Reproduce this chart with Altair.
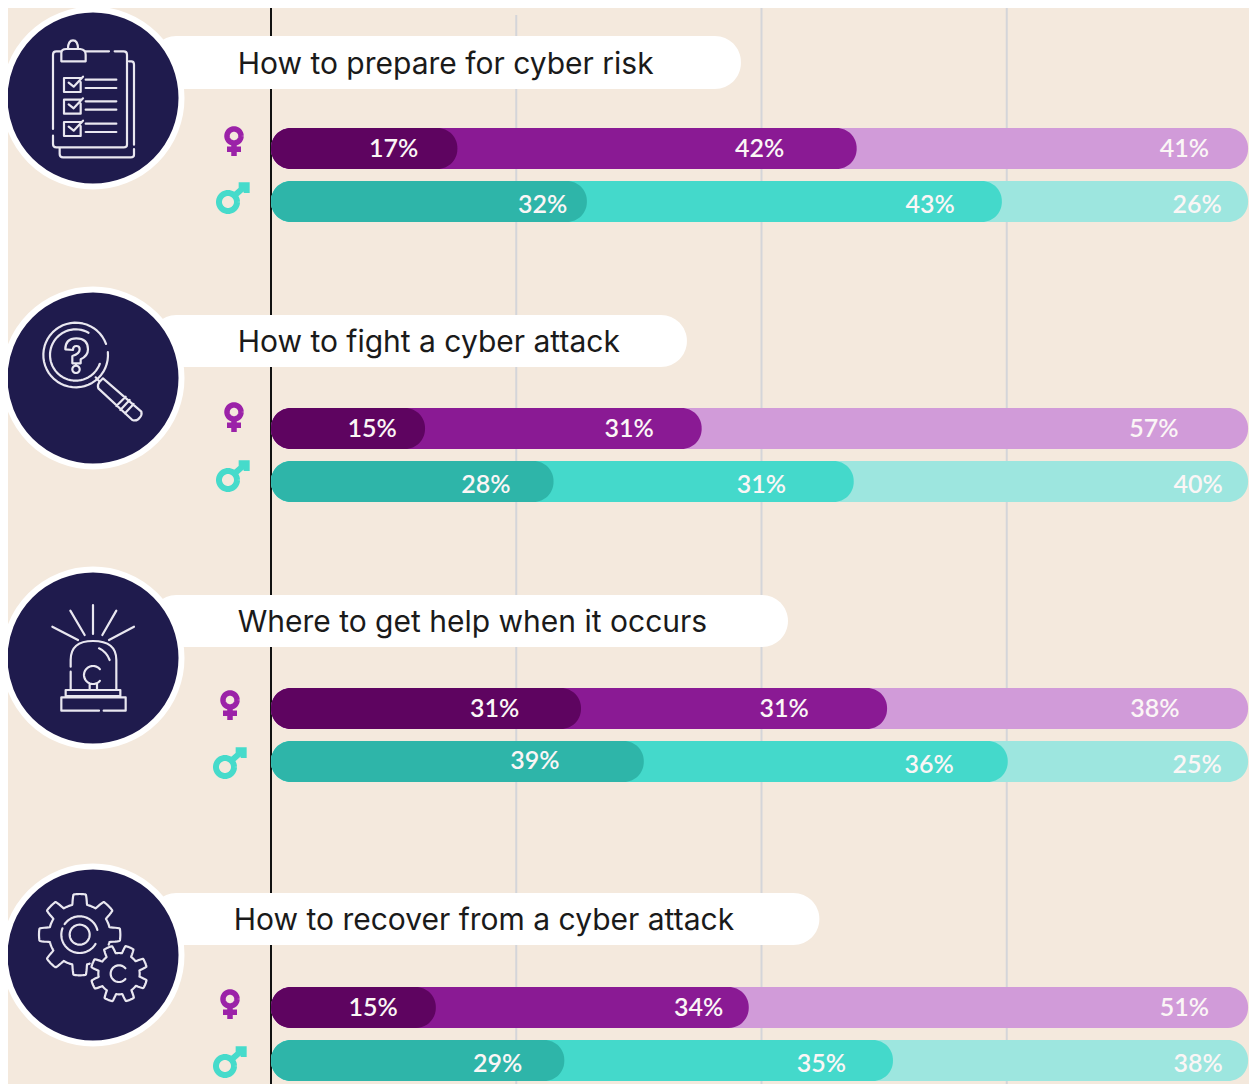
import numpy as np
import pandas as pd
import altair as alt

# ---- values -----------------------------------------------------------
TOPICS = ["How to prepare for cyber risk", "How to fight a cyber attack",
          "Where to get help when it occurs", "How to recover from a cyber attack"]
WOMEN_LABELS = [[17, 42, 41], [15, 31, 57], [31, 31, 38], [15, 34, 51]]
MEN_LABELS = [[32, 43, 26], [28, 31, 40], [39, 36, 25], [29, 35, 38]]
# where the first and second segment end on the 0-100 scale
WOMEN_ENDS = [[19.0, 59.7], [15.7, 43.9], [31.6, 62.8], [16.8, 48.7]]
MEN_ENDS = [[32.2, 74.5], [28.8, 59.4], [38.0, 75.1], [29.9, 63.4]]
# where each label is centred on the 0-100 scale
WOMEN_LABEL_AT = [[12.5, 49.8, 93.1], [10.3, 36.5, 90.0], [22.8, 52.3, 90.1], [10.4, 43.6, 93.1]]
MEN_LABEL_AT = [[27.7, 67.2, 94.4], [21.9, 50.0, 94.5], [26.9, 67.1, 94.4], [23.1, 56.1, 94.5]]
PILL_ENDS = [47.9, 42.4, 52.7, 55.9]
TITLE_AT = [-3.4, -3.4, -3.4, -3.8]
FULL_BAR_END = 99.6

# ---- layout ------------------------------------------------------------
K = 9.81  # pixels per percentage point
CIRCLE_X = -178 / K
CIRCLE_Y = [98, 378, 658, 955]
PILL_Y = [(36, 89), (315, 367), (595, 647), (893, 945)]
WOMEN_Y = [(128, 169), (408, 449), (688, 729), (987, 1028)]
MEN_Y = [(181, 222), (461, 502), (741, 782), (1040, 1081)]
W_SYM = [(-37 / K, 136), (-37 / K, 412), (-41 / K, 700), (-41 / K, 999)]
M_SYM = [(-43 / K, 202), (-43 / K, 480), (-46 / K, 767), (-46 / K, 1066)]
GRID = [(25, 15), (50, 0), (75, 0)]

BG = "#f4e9dd"; NAVY = "#1f1b4d"; LINE = "#e9e7f0"
WOMEN_COLORS = ["#d19bd9", "#8a1a94", "#5e0460"]
MEN_COLORS = ["#9de6df", "#44d9cb", "#2eb5a9"]

xs = alt.Scale(domain=[(8 - 271) / K, (1249 - 271) / K], zero=False, nice=False)
ys = alt.Scale(domain=[1084, 8], zero=False, nice=False)
X = alt.X("x:Q", scale=xs, axis=None)
Y = alt.Y("y:Q", scale=ys, axis=None)


# ---- icon outlines, in units of a third of a pixel ----------------------
def pl(*pts):
    return "M" + " L".join(f"{a:.1f} {b:.1f}" for a, b in pts)


def arc(cx, cy, r, a0=0, a1=360):
    t = np.radians(np.linspace(a0, a1, 49))
    return pl(*zip(cx + r * np.cos(t), cy + r * np.sin(t)))


def gear(cx, cy, root, outer, n, phase, avoid=None):
    t = np.radians(np.linspace(0, 360, 361))
    k = np.clip(1.5 * np.cos(n * (t - np.radians(phase))) + 0.5, 0, 1)
    r = root + (outer - root) * k
    a, b = cx + r * np.cos(t), cy + r * np.sin(t)
    runs, cur = [], []
    for p in zip(a, b):
        if avoid and np.hypot(p[0] - avoid[0], p[1] - avoid[1]) < avoid[2]:
            if cur:
                runs.append(cur)
            cur = []
        else:
            cur.append(p)
    if cur:
        runs.append(cur)
    return " ".join(pl(*c) for c in runs)


def shift(segs, cx, cy):
    """Re-centres absolute M/L/Q path text written in zoomed reference units."""
    out = []
    for s in segs:
        toks = s.replace("M", " M ").replace("L", " L ").replace("Q", " Q ").replace("Z", " Z ").replace(",", " ").split()
        i, res = 0, []
        while i < len(toks):
            if toks[i] in "MLQZ":
                res.append(toks[i]); i += 1
            else:
                res.append(f"{float(toks[i]) - cx:.1f} {float(toks[i + 1]) - cy:.1f}"); i += 2
        out.append(" ".join(res))
    return " ".join(out)


clip = ["M160,388 L160,165 Q160,155 170,155 L185,155",
        "M200,148 L242,148 Q258,150 258,165 L258,185 L185,185 L185,160 Q185,148 200,148",
        "M205,148 Q205,122 220,122 Q235,122 235,148",
        "M258,155 L328,155",
        "M345,155 L372,155 Q382,155 382,165 L382,435 Q382,443 372,443 L170,443 Q160,443 160,433 L160,408",
        "M388,185 L395,185 Q403,185 403,195 L403,435",
        "M403,448 L403,465 Q403,473 393,473 L190,473 Q180,473 180,463 L180,445"]
for yy in (235, 300, 367):
    clip += [f"M243,{yy} L193,{yy} L193,{yy + 42} L243,{yy + 42} L243,{yy + 12}",
             f"M207,{yy + 14} L222,{yy + 26} L250,{yy - 4}",
             f"M258,{yy + 5} L350,{yy + 5}", f"M258,{yy + 30} L350,{yy + 30}"]
ICON_CLIP = shift(clip, 280, 295)

ICON_LENS = shift([arc(228, 225, 97, -5, 340), arc(228, 225, 77, 20, 300),
                   "M197,208 Q197,175 230,175 Q265,175 265,208 Q265,228 243,238 L243,250 L218,250 L218,228 Q240,222 240,208 Q240,198 230,198 Q220,198 220,210 Z",
                   arc(229, 268, 11),
                   "M310,295 L425,395 Q428,405 420,413 Q412,425 398,420 L296,325 Q292,315 300,305 Z",
                   "M288,292 L300,305",
                   "M378,350 L350,378", "M390,360 L362,390", "M402,372 L376,400"], 280, 294)

ICON_SIREN = shift(["M280,135 L280,222", "M212,152 L255,225", "M350,152 L308,225",
                    "M158,200 L235,240", "M403,200 L328,240",
                    "M213,320 L213,300 Q213,243 280,243 Q350,243 350,300 L350,388",
                    "M213,335 L213,388", "M298,265 Q320,275 330,300",
                    arc(280, 345, 27, 40, 320), "M270,372 L270,388", "M292,372 L292,388",
                    "M198,408 L198,390 L362,390 L362,408 L198,408",
                    "M298,452 L185,452 L185,412 L378,412 L378,452 L312,452"], 280, 294)

ICON_GEAR = shift([gear(240, 248, 92, 122, 8, 0, avoid=(358, 365, 92)),
                   gear(358, 365, 62, 85, 8, 22),
                   arc(240, 248, 30), arc(240, 248, 55, 30, 200), arc(240, 248, 55, 215, 345),
                   arc(358, 365, 25, 40, 320)], 280, 309)

W_SHAPE = arc(0, 0, 21) + " " + pl((0, 21), (0, 60)) + " " + pl((-21, 40), (21, 40))
M_SHAPE = arc(0, 0, 27) + " " + pl((19, -19), (52, -48)) + " " + pl((32, -50), (56, -50), (56, -27))

# ---- tables -------------------------------------------------------------
bars, labels = [], []
for name, ENDS, LAB, AT, ROWS, COLS in [("W", WOMEN_ENDS, WOMEN_LABELS, WOMEN_LABEL_AT, WOMEN_Y, WOMEN_COLORS),
                                        ("M", MEN_ENDS, MEN_LABELS, MEN_LABEL_AT, MEN_Y, MEN_COLORS)]:
    for t in range(4):
        top, bot = ROWS[t]
        for end, col in zip([FULL_BAR_END] + ENDS[t][::-1], COLS):
            bars.append({"x": 0, "x2": end, "y": top, "y2": bot, "c": col})
        for v, p in zip(LAB[t], AT[t]):
            off = -1 if (name == "M" and v == 39) else (3 if name == "M" else 0)
            labels.append({"x": p, "y": (top + bot) / 2 + off, "t": f"{v}%"})
bars = pd.DataFrame(bars)
labels = pd.DataFrame(labels)
pills = pd.DataFrame({"x": [-12.3] * 4, "x2": PILL_ENDS, "y": [p[0] for p in PILL_Y], "y2": [p[1] for p in PILL_Y]})
titles = pd.DataFrame({"x": TITLE_AT, "y": [(a + b) / 2 + 2 for a, b in PILL_Y], "t": TOPICS})
circles = pd.DataFrame({"x": [CIRCLE_X] * 4, "y": CIRCLE_Y})
grid = pd.DataFrame({"x": [g[0] for g in GRID], "y": [g[1] for g in GRID], "y2": [1084] * 3})
axis0 = pd.DataFrame({"x": [0], "y": [8], "y2": [1084]})

layers = [
    alt.Chart(grid).mark_rule(color="#d4d5d9", strokeWidth=2).encode(x=X, y=Y, y2="y2:Q"),
    alt.Chart(axis0).mark_rule(color="#111111", strokeWidth=2).encode(x=X, y=Y, y2="y2:Q"),
    alt.Chart(pills).mark_bar(color="white", cornerRadius=26).encode(x=X, x2="x2:Q", y=Y, y2="y2:Q"),
    alt.Chart(circles).mark_point(shape="circle", filled=True, fill=NAVY, stroke="white", strokeWidth=6,
                                  size=177.0 ** 2, opacity=1).encode(x=X, y=Y),
]
for i, path in enumerate([ICON_CLIP, ICON_LENS, ICON_SIREN, ICON_GEAR]):
    layers.append(alt.Chart(circles.iloc[[i]]).mark_point(
        shape=path, size=4 / 9, filled=False, stroke=LINE, strokeWidth=2.2, opacity=1,
        strokeCap="round", strokeJoin="round").encode(x=X, y=Y))
layers += [
    alt.Chart(pd.DataFrame(W_SYM, columns=["x", "y"])).mark_point(
        shape=W_SHAPE, size=4 / 9, filled=False, stroke="#9b22a8", strokeWidth=5.5, opacity=1).encode(x=X, y=Y),
    alt.Chart(pd.DataFrame(M_SYM, columns=["x", "y"])).mark_point(
        shape=M_SHAPE, size=4 / 9, filled=False, stroke="#46dbcb", strokeWidth=6, opacity=1).encode(x=X, y=Y),
    alt.Chart(bars).mark_bar(cornerRadius=20).encode(x=X, x2="x2:Q", y=Y, y2="y2:Q",
                                                    color=alt.Color("c:N", scale=None, legend=None)),
    alt.Chart(titles).mark_text(align="left", baseline="middle", font="Inter", fontSize=30,
                                color="#1a1a1a").encode(x=X, y=Y, text="t:N"),
    alt.Chart(labels).mark_text(align="center", baseline="middle", font="Lato", fontWeight=600, fontSize=25,
                                color="#fbf6f6").encode(x=X, y=Y, text="t:N"),
]

chart = alt.layer(*layers).properties(
    width=1241, height=1076, background=BG,
    padding=0, autosize=alt.AutoSizeParams(type="none"),
).configure_view(stroke=None)

chart.save("out.html", embed_options={"renderer": "svg", "actions": False})
